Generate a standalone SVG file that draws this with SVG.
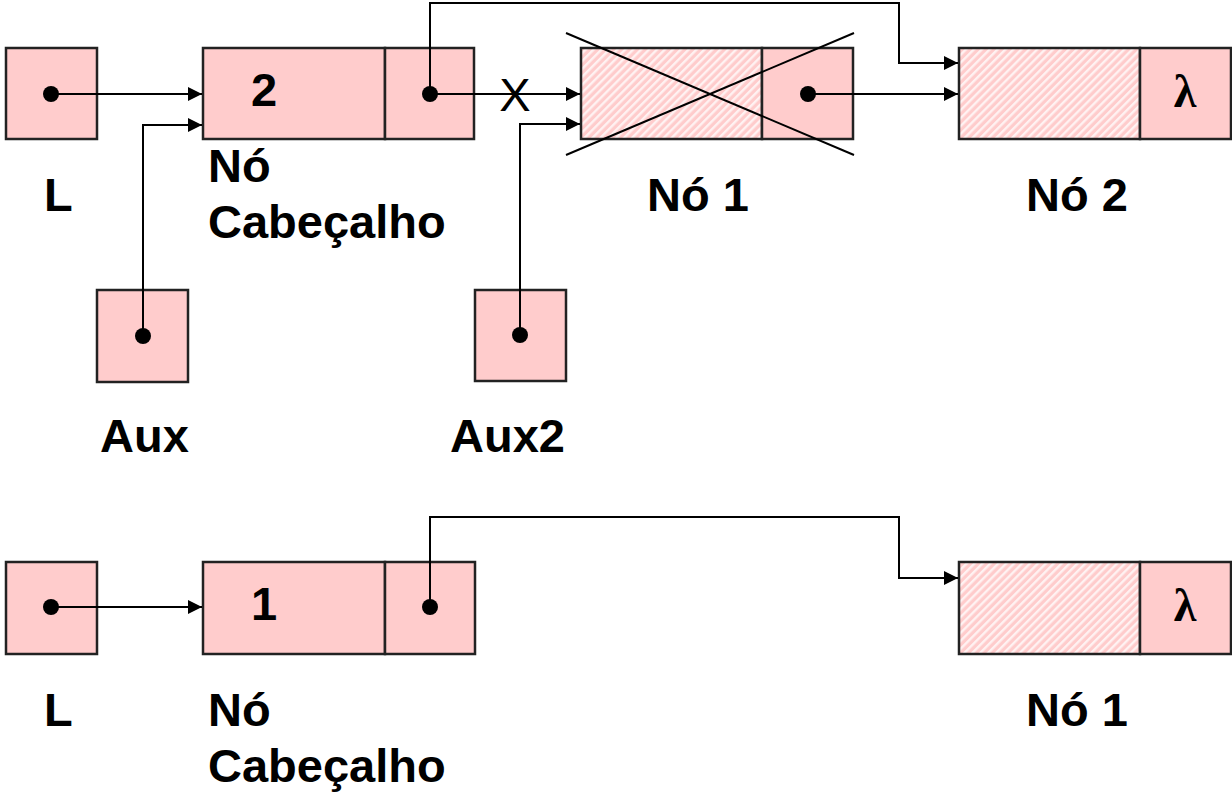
<svg xmlns="http://www.w3.org/2000/svg" width="1232" height="795" viewBox="0 0 1232 795">
<style>
.box{fill:#ffcccc;stroke:#222;stroke-width:2.5}
.hatch{fill:url(#hatch);stroke:#222;stroke-width:2.5}
.lbl{font-family:"Liberation Sans",Arial,sans-serif;font-weight:bold;font-size:47px;fill:#000}
.lam{font-family:"Liberation Serif","Times New Roman",serif;font-weight:bold;font-size:46px;fill:#000;text-anchor:middle}
.xl{font-family:"Liberation Sans",Arial,sans-serif;font-size:47px;fill:#000;text-anchor:middle}
.wire{fill:none;stroke:#000;stroke-width:2}
.cross{fill:none;stroke:#000;stroke-width:2}
.dot{fill:#000}
</style>
<defs>
<pattern id="hatch" patternUnits="userSpaceOnUse" width="5.6" height="5.6" patternTransform="rotate(45)">
<rect width="5.6" height="5.6" fill="#ffcccc"/>
<rect width="2.4" height="5.6" fill="#fff2f2"/>
</pattern>
<marker id="arr" markerWidth="14" markerHeight="14" refX="14" refY="7" orient="auto" markerUnits="userSpaceOnUse">
<path d="M0,0 L14,7 L0,14 Z" fill="#000"/>
</marker>
</defs>

<g id="L_top">
<rect class="box" x="6" y="48" width="91" height="91"/>
<text class="lbl" x="44" y="211">L</text>
</g>

<g id="head_top">
<rect class="box" x="203" y="48" width="182" height="91"/>
<rect class="box" x="385" y="48" width="89" height="91"/>
<text class="lbl" x="251" y="106">2</text>
<text class="lbl" x="208" y="182">Nó</text>
<text class="lbl" x="208" y="238">Cabeçalho</text>
</g>

<g id="aux">
<rect class="box" x="97" y="290" width="91" height="92"/>
<text class="lbl" x="100" y="452">Aux</text>
</g>

<g id="aux2">
<rect class="box" x="475" y="290" width="91" height="91"/>
<text class="lbl" x="450" y="452">Aux2</text>
</g>

<g id="x_mark">
<text class="xl" x="515" y="111">X</text>
</g>

<g id="no1_top">
<rect class="hatch" x="581" y="48" width="181" height="91"/>
<rect class="box" x="762" y="48" width="91" height="91"/>
<line class="cross" x1="566" y1="33" x2="854" y2="155"/>
<line class="cross" x1="566" y1="155" x2="854" y2="33"/>
<text class="lbl" x="647" y="211">Nó 1</text>
</g>

<g id="no2_top">
<rect class="hatch" x="959" y="48" width="181" height="91"/>
<rect class="box" x="1140" y="48" width="91" height="91"/>
<text class="lam" x="1185" y="107">λ</text>
<text class="lbl" x="1026" y="211">Nó 2</text>
</g>

<g id="L_bottom">
<rect class="box" x="6" y="562" width="91" height="92"/>
<text class="lbl" x="44" y="726">L</text>
</g>

<g id="head_bottom">
<rect class="box" x="203" y="562" width="182" height="92"/>
<rect class="box" x="385" y="562" width="90" height="92"/>
<text class="lbl" x="251" y="620">1</text>
<text class="lbl" x="208" y="726">Nó</text>
<text class="lbl" x="208" y="782">Cabeçalho</text>
</g>

<g id="no1_bottom">
<rect class="hatch" x="959" y="562" width="181" height="92"/>
<rect class="box" x="1140" y="562" width="91" height="92"/>
<text class="lam" x="1185" y="621">λ</text>
<text class="lbl" x="1026" y="726">Nó 1</text>
</g>

<g id="connectors">
<path class="wire" d="M51,94 H202" marker-end="url(#arr)"/>
<path class="wire" d="M143,336 V125 H202" marker-end="url(#arr)"/>
<path class="wire" d="M430,94 H580" marker-end="url(#arr)"/>
<path class="wire" d="M430,94 V3 H899 V63 H958" marker-end="url(#arr)"/>
<path class="wire" d="M520,335 V124 H580" marker-end="url(#arr)"/>
<path class="wire" d="M808,94 H958" marker-end="url(#arr)"/>
<path class="wire" d="M51,607 H202" marker-end="url(#arr)"/>
<path class="wire" d="M430,607 V517 H899 V578 H958" marker-end="url(#arr)"/>
<circle class="dot" cx="51" cy="94" r="8"/>
<circle class="dot" cx="430" cy="94" r="8"/>
<circle class="dot" cx="143" cy="336" r="8"/>
<circle class="dot" cx="520" cy="335" r="8"/>
<circle class="dot" cx="808" cy="94" r="8"/>
<circle class="dot" cx="51" cy="607" r="8"/>
<circle class="dot" cx="430" cy="607" r="8"/>
</g>
</svg>
